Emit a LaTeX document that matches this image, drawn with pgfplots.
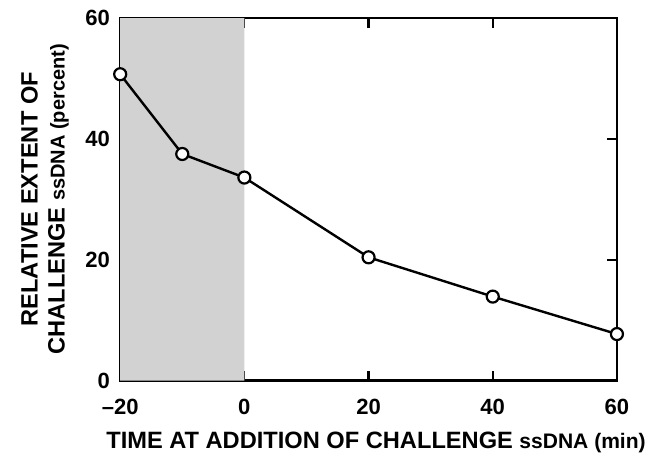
\documentclass[border=0pt]{standalone}
\usepackage{fontspec}
\setmainfont{Liberation Sans}
\usepackage{pgfplots}
\pgfplotsset{compat=1.18}
\begin{document}
\begin{tikzpicture}
\begin{axis}[
    name=ax,
    scale only axis,
    width=248pt, height=181pt,
    xmin=-20, xmax=60, ymin=0, ymax=60,
    xtick={-20,0,20,40,60},
    xticklabels={\textendash20,0,20,40,60},
    ytick={0,20,40,60},
    tick align=inside,
    major tick length=5pt,
    axis line style={line width=1.1pt},
    every tick/.style={line width=1.1pt, black},
    tick label style={font=\bfseries\fontsize{11}{13}\selectfont, inner sep=1pt},
    /pgf/number format/assume math mode=true,
    xticklabel style={anchor=center, yshift=-13pt},
    yticklabel style={xshift=-4pt},
    xlabel={\bfseries\fontsize{11.8}{13}\selectfont TIME AT ADDITION OF CHALLENGE {\fontsize{10.5}{12}\selectfont ssDNA (min)}},
    ylabel={\bfseries\fontsize{11.8}{13.5}\selectfont\begin{tabular}{@{}c@{}}RELATIVE EXTENT OF\\CHALLENGE {\fontsize{10}{12}\selectfont ssDNA (percent)}\end{tabular}},
    xlabel style={at={(axis description cs:0.515,-0.17)}, anchor=center},
    ylabel style={at={(axis description cs:-0.15,0.5)}, anchor=center},
    clip=false,
]
\addplot[fill=gray!35, draw=none] coordinates {(-20,0) (-20,60) (0,60) (0,0)} \closedcycle;
\addplot[black, line width=1.2pt, mark=*, mark size=3pt,
    mark options={fill=white, draw=black, line width=1.1pt}] coordinates {
    (-20, 50.7)
    (-10, 37.5)
    (0, 33.6)
    (20, 20.4)
    (40, 13.9)
    (60, 7.7)
};
\end{axis}
\pgfresetboundingbox
\path ([shift={(-60pt,-38pt)}]ax.south west) rectangle ([shift={(19pt,9pt)}]ax.north east);
\end{tikzpicture}
\end{document}
